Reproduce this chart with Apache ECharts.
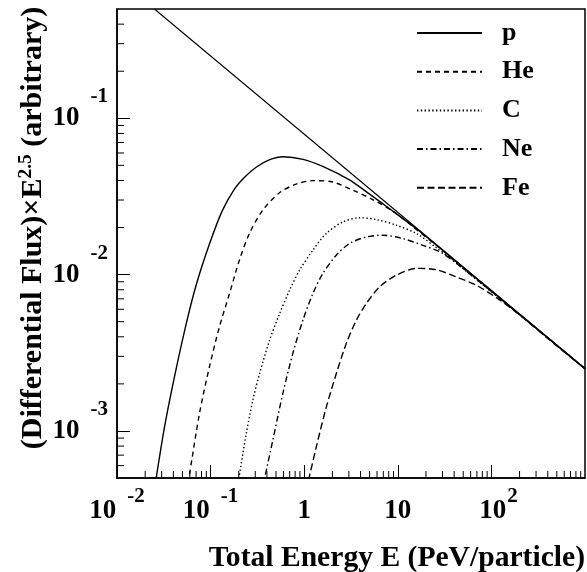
<!DOCTYPE html>
<html><head><meta charset="utf-8">
<script src="https://cdn.jsdelivr.net/npm/echarts@6/dist/echarts.min.js"></script>
<style>html,body{margin:0;padding:0;background:#fff}#c{width:587px;height:572px}</style>
</head><body><div id="c"></div>
<script>
// ---- data (E in PeV, y = flux x E^2.5, arbitrary) ----
const lineE = [0.0251, 1000];
const lineY = [0.5, 0.0025];

const pE = [0.0240, 0.0261, 0.0321, 0.0410, 0.0547, 0.0705, 0.0970, 0.1327, 0.1797, 0.232, 0.309, 0.429, 0.596, 0.975, 1.60, 3.07, 4.63, 6.39, 10.45, 17.1, 50, 200, 1000];
const pY = [3.57e-4, 4.92e-4, 1.05e-3, 2.198e-3, 4.80e-3, 8.67e-3, 0.01563, 0.02547, 0.03524, 0.0421, 0.0488, 0.0544, 0.0568, 0.0546, 0.0490, 0.0402, 0.0338, 0.0294, 0.02366, 0.01895, 0.0111, 0.00558, 0.0025];

const heE = [0.0533, 0.0584, 0.0759, 0.0970, 0.124, 0.159, 0.203, 0.260, 0.360, 0.545, 0.820, 1.23, 2.01, 3.29, 5.38, 8.80, 14.4, 30, 100, 1000];
const heY = [3.57e-4, 4.92e-4, 1.285e-3, 2.56e-3, 4.61e-3, 7.55e-3, 0.01236, 0.01833, 0.0258, 0.0334, 0.0379, 0.0399, 0.0391, 0.0347, 0.0302, 0.0255, 0.02034, 0.0143, 0.00785, 0.0025];

const cE = [0.183, 0.200, 0.240, 0.282, 0.333, 0.426, 0.545, 0.697, 0.891, 1.236, 1.72, 2.59, 3.90, 5.89, 9.64, 15.8, 25.8, 35.8, 80, 300, 1000];
const cY = [3.57e-4, 4.92e-4, 9.57e-4, 1.563e-3, 2.32e-3, 3.79e-3, 5.62e-3, 7.93e-3, 0.01066, 0.01432, 0.01833, 0.0217, 0.0231, 0.0225, 0.0207, 0.01833, 0.01487, 0.01282, 8.65e-3, 4.55e-3, 0.0025];

const neE = [0.335, 0.376, 0.461, 0.590, 0.755, 0.966, 1.236, 1.58, 2.20, 3.05, 4.60, 6.93, 11.3, 18.5, 30.3, 60, 200, 1000];
const neY = [3.57e-4, 4.92e-4, 8.67e-4, 1.726e-3, 3.12e-3, 5.09e-3, 7.55e-3, 0.01015, 0.0133, 0.0158, 0.0174, 0.01787, 0.0170, 0.0154, 0.01365, 0.00999, 5.55e-3, 0.0025];

const feE = [0.988, 1.12, 1.343, 1.72, 2.20, 2.81, 3.60, 4.60, 6.39, 9.64, 15.8, 25.8, 42.3, 69.2, 113, 200, 400, 1000];
const feY = [3.57e-4, 4.92e-4, 7.85e-4, 1.416e-3, 2.32e-3, 3.61e-3, 5.09e-3, 6.52e-3, 8.34e-3, 9.91e-3, 0.01096, 0.01074, 9.66e-3, 8.53e-3, 7.12e-3, 5.53e-3, 3.9e-3, 0.0025];

const seriesNames = ['p', 'He', 'C', 'Ne', 'Fe'];

// axis ranges and tick values
const xRange = [0.01, 1000];
const yRange = [5e-4, 0.5];
const minorMult = [2, 3, 4, 5, 6, 7, 8, 9];
const xDecades = [0.01, 0.1, 1, 10, 100];
const yDecades = [1e-4, 1e-3, 1e-2, 1e-1];

// ---- build ----
const FONT = "'Liberation Serif', 'Times New Roman', serif";
const zip = (a, b) => a.map((v, i) => [v, b[i]]);
const between = (v, r) => v > r[0] * 1.0001 && v < r[1] * 0.9999;
const xMinor = [], yMinor = [];
xDecades.forEach(d => minorMult.forEach(m => { const v = m * d; if (between(v, xRange)) xMinor.push(v); }));
yDecades.forEach(d => minorMult.forEach(m => { const v = m * d; if (between(v, yRange)) yMinor.push(v); }));

function decadeLabel(v) {
  const L = Math.log10(v), e = Math.round(L);
  if (Math.abs(L - e) > 1e-6) return '';
  if (e === 0) return '{b|1}';
  if (e === 1) return '{b|10}';
  if (e > 0) return '{bp|10}{p|' + e + '}';
  return '{b|10}{n|' + e + '}';
}
function richFor(lh) {
  const base = { fontFamily: FONT, fontWeight: 'bold', color: '#000' };
  return {
    b: Object.assign({ fontSize: 27, lineHeight: lh }, base),
    bp: Object.assign({ fontSize: 27, lineHeight: lh, padding: [0, 0, 0, 14] }, base),
    n: Object.assign({ fontSize: 21, lineHeight: 21, verticalAlign: 'top', padding: [0, 0, 0, 11] }, base),
    p: Object.assign({ fontSize: 21, lineHeight: 21, verticalAlign: 'top', padding: [0, 0, 0, 1] }, base)
  };
}

const curveStyle = {
  p:  { type: 'solid', width: 1.4 },
  He: { type: [5, 4], width: 1.4 },
  C:  { type: [1.4, 2.4], width: 1.4 },
  Ne: { type: [6, 3, 1.5, 3], width: 1.4 },
  Fe: { type: [7, 3.5], width: 1.4 }
};
const curveData = { p: zip(pE, pY), He: zip(heE, heY), C: zip(cE, cY), Ne: zip(neE, neY), Fe: zip(feE, feY) };

const series = seriesNames.map(n => ({
  name: n, type: 'line', data: curveData[n], symbol: 'none', smooth: 0.3, clip: true,
  lineStyle: Object.assign({ color: '#000' }, curveStyle[n]), itemStyle: { color: '#000' }, z: 3
}));
series.push({
  name: 'line', type: 'line', data: zip(lineE, lineY), symbol: 'none', clip: true,
  lineStyle: { color: '#000', width: 1.1 }, z: 3
});
function tickRender(horizontal) {
  return function (params, api) {
    const p = api.coord([api.value(0), api.value(1)]);
    const shape = horizontal ? { x1: p[0], y1: p[1], x2: p[0] + 7, y2: p[1] }
                             : { x1: p[0], y1: p[1], x2: p[0], y2: p[1] - 7 };
    return { type: 'line', shape: shape, style: { stroke: '#000', lineWidth: 1 } };
  };
}
series.push({ type: 'custom', silent: true, clip: false, z: 4, data: xMinor.map(v => [v, yRange[0]]), renderItem: tickRender(false) });
series.push({ type: 'custom', silent: true, clip: false, z: 4, data: yMinor.map(v => [xRange[0], v]), renderItem: tickRender(true) });

const chart = echarts.init(document.getElementById('c'), null, { renderer: 'canvas' });
chart.setOption({
  animation: false,
  backgroundColor: '#fff',
  grid: { left: 117, top: 9, right: 2, bottom: 94, show: true, borderColor: '#000', borderWidth: 1.5, backgroundColor: 'transparent' },
  xAxis: {
    type: 'log', logBase: 10, min: xRange[0], max: xRange[1],
    axisLine: { show: true, lineStyle: { color: '#000', width: 1.5 } },
    axisTick: { show: true, inside: true, length: 13, lineStyle: { color: '#000', width: 1 } },
    splitLine: { show: false }, minorTick: { show: false },
    axisLabel: { margin: 8, showMaxLabel: false, formatter: decadeLabel, color: '#000', rich: richFor(50) }
  },
  yAxis: {
    type: 'log', logBase: 10, min: yRange[0], max: yRange[1],
    axisLine: { show: true, lineStyle: { color: '#000', width: 1.5 } },
    axisTick: { show: true, inside: true, length: 13, lineStyle: { color: '#000', width: 1 } },
    splitLine: { show: false }, minorTick: { show: false },
    axisLabel: { margin: 9, showMinLabel: false, showMaxLabel: false, formatter: decadeLabel, color: '#000', rich: richFor(64) }
  },
  legend: {
    orient: 'vertical', left: 416, top: 20, padding: 0, itemWidth: 65, itemHeight: 26, itemGap: 12.7,
    data: seriesNames,
    itemStyle: { opacity: 0, borderWidth: 0 },
    textStyle: { fontFamily: FONT, fontWeight: 'bold', fontSize: 26, color: '#000', padding: [0, 0, 0, 15] },
    inactiveColor: '#000'
  },
  graphic: [
    { type: 'text', x: 585, y: 558, silent: true,
      style: { text: 'Total Energy E (PeV/particle)', fontFamily: FONT, fontWeight: 'bold', fontSize: 29.6, fill: '#000', align: 'right', verticalAlign: 'middle' } },
    { type: 'text', x: 33.5, y: 228, rotation: Math.PI / 2, silent: true,
      style: { text: '{t|(Differential Flux)×E}{s|2.5}{t| (arbitrary)}', align: 'center', verticalAlign: 'middle', fill: '#000',
        rich: {
          t: { fontFamily: FONT, fontWeight: 'bold', fontSize: 30, lineHeight: 36, fill: '#000' },
          s: { fontFamily: FONT, fontWeight: 'bold', fontSize: 19.5, lineHeight: 19.5, verticalAlign: 'top', fill: '#000' }
        } } }
  ],
  series: series
});
</script>
</body></html>
